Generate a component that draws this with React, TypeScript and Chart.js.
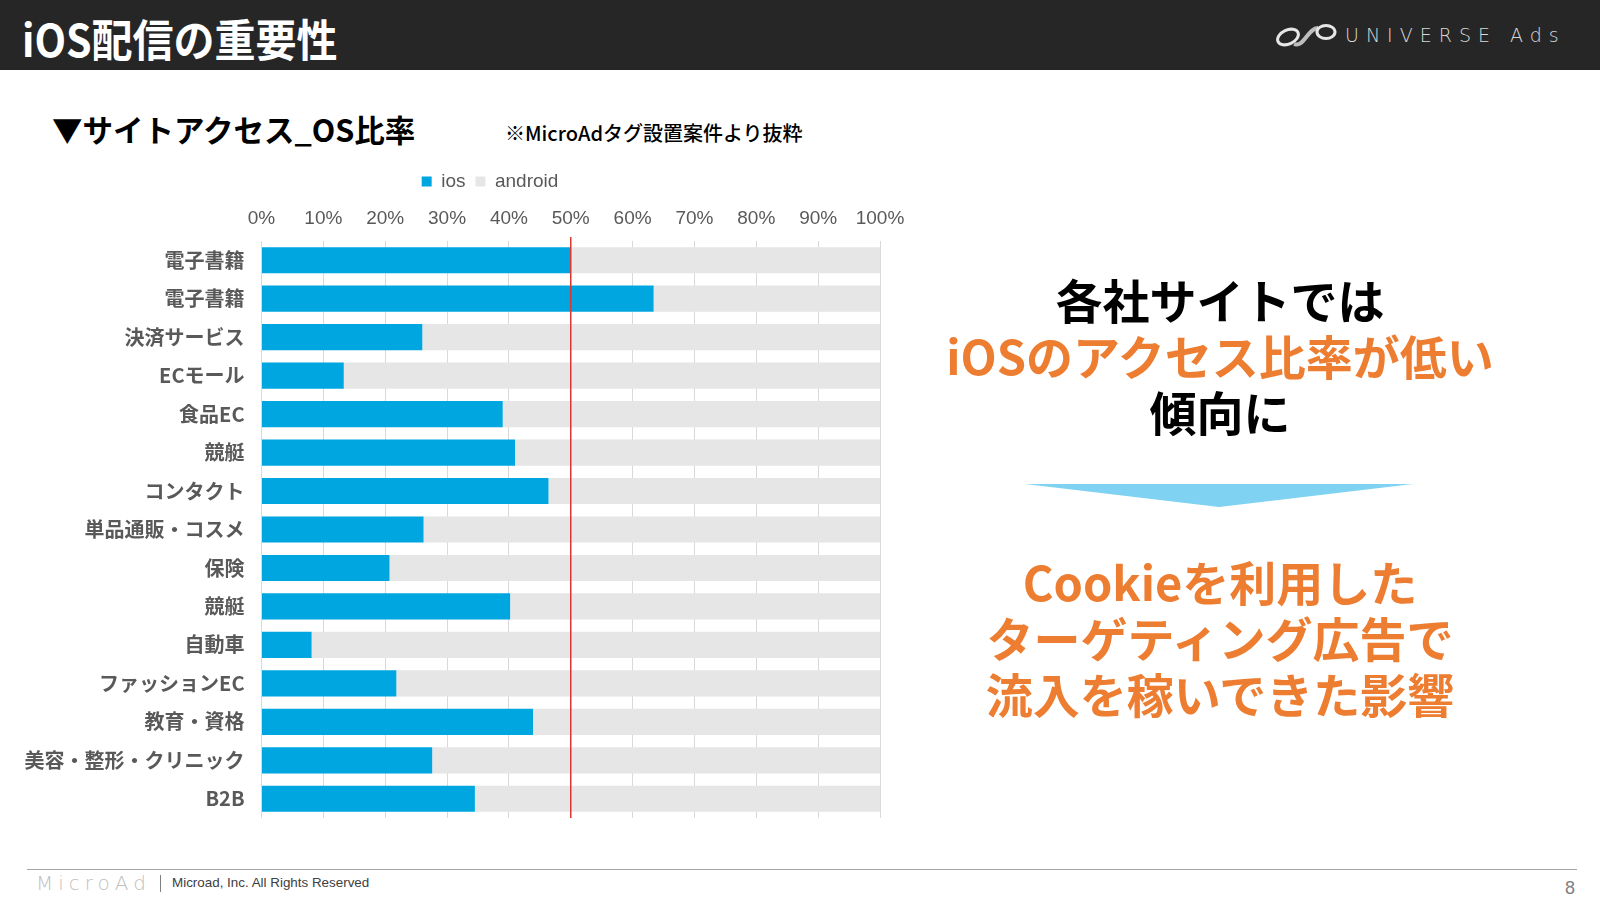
import React, { useEffect, useRef } from "react";
import { Chart, registerables } from "chart.js";

Chart.register(...registerables);

// ---- data ----
const categories = [
  "電子書籍",
  "電子書籍",
  "決済サービス",
  "ECモール",
  "食品EC",
  "競艇",
  "コンタクト",
  "単品通販・コスメ",
  "保険",
  "競艇",
  "自動車",
  "ファッションEC",
  "教育・資格",
  "美容・整形・クリニック",
  "B2B",
];
const iosShare = [49.9, 63.4, 26.0, 13.3, 39.0, 41.0, 46.4, 26.2, 20.7, 40.2, 8.1, 21.8, 43.9, 27.6, 34.5];
const androidShare = [50.1, 36.6, 74.0, 86.7, 61.0, 59.0, 53.6, 73.8, 79.3, 59.8, 91.9, 78.2, 56.1, 72.4, 65.5];
const seriesNames = ["ios", "android"];
const axisMin = 0;
const axisMax = 100;
const axisStep = 10;
const referenceLine = 50;

const IOS_BLUE = "#00A6E0";
const ANDROID_GRAY = "#E7E6E6";
const ORANGE = "#ED7D31";
const LABEL_GRAY = "#595959";

const refLinePlugin = {
  id: "refLine",
  afterLayout(chart: any) {
    if (chart.legend) {
      chart.legend.left += 40;
      chart.legend.right += 40;
    }
  },
  afterDatasetsDraw(chart: any) {
    const x = chart.scales.x.getPixelForValue(referenceLine);
    const { top, bottom } = chart.chartArea;
    const ctx = chart.ctx;
    ctx.save();
    ctx.strokeStyle = "#D9372F";
    ctx.lineWidth = 1.5;
    ctx.beginPath();
    ctx.moveTo(x, top - 4);
    ctx.lineTo(x, bottom);
    ctx.stroke();
    ctx.restore();
  },
};

function BarChart() {
  const ref = useRef<HTMLCanvasElement | null>(null);
  useEffect(() => {
    if (!ref.current) return;
    const chart = new Chart(ref.current, {
      type: "bar",
      data: {
        labels: categories,
        datasets: [
          {
            label: seriesNames[0],
            data: iosShare,
            backgroundColor: IOS_BLUE,
            barPercentage: 0.68,
            categoryPercentage: 1,
          },
          {
            label: seriesNames[1],
            data: androidShare,
            backgroundColor: ANDROID_GRAY,
            barPercentage: 0.68,
            categoryPercentage: 1,
          },
        ],
      },
      options: {
        indexAxis: "y",
        responsive: false,
        maintainAspectRatio: false,
        animation: false,
        layout: { padding: { left: 0, right: 80, top: 0, bottom: 1 } },
        plugins: {
          legend: {
            position: "top",
            align: "center",
            labels: {
              boxWidth: 10,
              boxHeight: 10,
              padding: 10,
              color: LABEL_GRAY,
              font: { family: "'Liberation Sans', Arial, sans-serif", size: 19 },
            },
          },
          tooltip: { enabled: false },
        },
        scales: {
          x: {
            position: "top",
            stacked: true,
            min: axisMin,
            max: axisMax,
            ticks: {
              stepSize: axisStep,
              padding: 11,
              color: LABEL_GRAY,
              font: { family: "'Liberation Sans', Arial, sans-serif", size: 19 },
              callback: (v: any) => v + "%",
            },
            grid: { color: "#D9D9D9", drawTicks: false, lineWidth: 1 },
            border: { display: false },
            afterFit: (scale: any) => {
              scale.height = 40;
            },
          },
          y: {
            stacked: true,
            ticks: {
              padding: 17,
              color: LABEL_GRAY,
              font: { family: "'Noto Sans CJK JP', sans-serif", size: 20, weight: "bold" },
            },
            grid: { display: false, drawTicks: false },
            border: { display: false },
            afterFit: (scale: any) => {
              scale.width = 241.5;
              scale.paddingTop = 0;
              scale.paddingBottom = 0;
            },
          },
        },
      },
      plugins: [refLinePlugin],
    });
    return () => chart.destroy();
  }, []);
  return (
    <canvas
      ref={ref}
      width={940}
      height={657}
      style={{ position: "absolute", left: 20, top: 162, width: 940, height: 657 }}
    />
  );
}

function Line({ y, text, color, size = 47 }: { y: number; text: string; color: string; size?: number }) {
  return (
    <div
      style={{
        position: "absolute",
        left: 900,
        width: 640,
        top: y - 30,
        height: 60,
        lineHeight: "60px",
        textAlign: "center",
        fontSize: size,
        fontWeight: 700,
        color,
        whiteSpace: "nowrap",
      }}
    >
      {text}
    </div>
  );
}

export default function App() {
  return (
    <div
      style={{
        position: "fixed",
        left: 0,
        top: 0,
        width: 1600,
        height: 900,
        background: "#FFFFFF",
        overflow: "hidden",
        fontFamily: "'Noto Sans CJK JP', sans-serif",
      }}
    >
      {/* header */}
      <div style={{ position: "absolute", left: 0, top: 0, width: 1600, height: 70, background: "#262626" }} />
      <div
        style={{
          position: "absolute",
          left: 22,
          top: 8,
          height: 60,
          lineHeight: "60px",
          fontSize: 41,
          fontWeight: 700,
          color: "#FFFFFF",
          whiteSpace: "nowrap",
          transform: "scaleY(1.08)",
          transformOrigin: "left center",
        }}
      >
        iOS配信の重要性
      </div>
      {/* logo */}
      <svg style={{ position: "absolute", left: 1274, top: 20 }} width={66} height={30} viewBox="0 0 66 30">
        <ellipse cx={14} cy={17} rx={11} ry={7} fill="none" stroke="#E6E6E6" strokeWidth={3} transform="rotate(-25 14 17)" />
        <path d="M20 24 C 30 28, 34 8, 44 8" fill="none" stroke="#BDBDBD" strokeWidth={4} />
        <ellipse cx={52} cy={12} rx={9} ry={6.5} fill="none" stroke="#E6E6E6" strokeWidth={3} />
      </svg>
      <div
        style={{
          position: "absolute",
          left: 1345,
          top: 21,
          height: 28,
          lineHeight: "28px",
          fontSize: 19,
          letterSpacing: 7,
          color: "#D8D8D8",
          fontFamily: "'DejaVu Sans', sans-serif",
          fontWeight: 300,
          whiteSpace: "nowrap",
        }}
      >
        UNIVERSE Ads
      </div>

      {/* subtitle */}
      <div
        style={{
          position: "absolute",
          left: 52,
          top: 109,
          height: 40,
          lineHeight: "40px",
          fontSize: 30.5,
          fontWeight: 700,
          color: "#000",
          whiteSpace: "nowrap",
        }}
      >
        ▼サイトアクセス_OS比率
      </div>
      <div
        style={{
          position: "absolute",
          left: 505,
          top: 119,
          height: 28,
          lineHeight: "28px",
          fontSize: 20,
          fontWeight: 500,
          color: "#000",
          whiteSpace: "nowrap",
        }}
      >
        ※MicroAdタグ設置案件より抜粋
      </div>

      <BarChart />

      {/* right message */}
      <Line y={299} text="各社サイトでは" color="#000000" />
      <Line y={355} text="iOSのアクセス比率が低い" color={ORANGE} />
      <Line y={411} text="傾向に" color="#000000" />
      <svg style={{ position: "absolute", left: 1020, top: 480 }} width={400} height={32}>
        <polygon points="5,4 393,4 199,27" fill="#7FD2F1" />
      </svg>
      <Line y={581} text="Cookieを利用した" color={ORANGE} />
      <Line y={637} text="ターゲティング広告で" color={ORANGE} />
      <Line y={693} text="流入を稼いできた影響" color={ORANGE} />

      {/* footer */}
      <div style={{ position: "absolute", left: 27, top: 869, width: 1550, height: 1, background: "#A6A6A6" }} />
      <div
        style={{
          position: "absolute",
          left: 36,
          top: 871,
          height: 24,
          lineHeight: "24px",
          fontSize: 20,
          letterSpacing: 5,
          color: "#BFBFBF",
          fontFamily: "'DejaVu Sans', sans-serif",
          fontWeight: 300,
          whiteSpace: "nowrap",
        }}
      >
        MicroAd
      </div>
      <div style={{ position: "absolute", left: 160, top: 875, width: 1, height: 17, background: "#808080" }} />
      <div
        style={{
          position: "absolute",
          left: 172,
          top: 874,
          height: 18,
          lineHeight: "18px",
          fontSize: 13.4,
          color: "#404040",
          fontFamily: "'Liberation Sans', Arial, sans-serif",
          whiteSpace: "nowrap",
        }}
      >
        Microad, Inc. All Rights Reserved
      </div>
      <div
        style={{
          position: "absolute",
          left: 1565,
          top: 876,
          height: 24,
          lineHeight: "24px",
          fontSize: 18,
          color: "#7F7F7F",
          fontFamily: "'Liberation Sans', Arial, sans-serif",
        }}
      >
        8
      </div>
    </div>
  );
}
